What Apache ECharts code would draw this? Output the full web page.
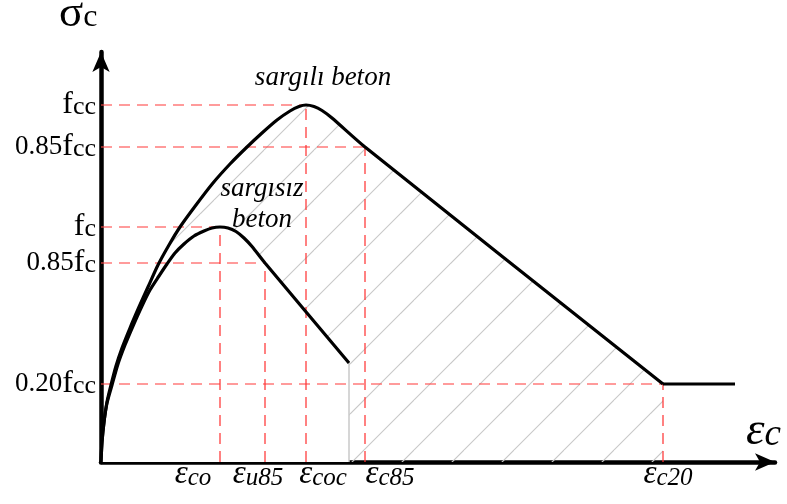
<!DOCTYPE html>
<html><head><meta charset="utf-8">
<script src="https://cdn.jsdelivr.net/npm/echarts@6/dist/echarts.min.js"></script>
<style>html,body{margin:0;padding:0;background:#fff}#c{width:787px;height:504px}</style>
</head><body><div id="c"></div>
<script>
// ---- data (strain units on x, stress units on y) ----
const confinedX = [0, 1, 3, 6, 10, 15, 21, 29, 38, 47, 57, 68, 79, 95, 112, 129, 146, 161, 176, 189, 198, 205, 213, 221, 231, 264, 562];
const confinedY = [0, 20, 40, 60, 77, 96, 114, 134, 155, 175, 197, 217, 235, 257, 279, 298, 315, 329, 342, 351, 355.5, 357, 355.5, 351.5, 344, 315, 78];
const tailX = [562, 634];
const tailY = [78, 78];
const unconfinedX = [0, 1, 3, 6, 11, 17, 24, 32, 41, 49, 58, 66, 74, 83, 93, 103, 111, 119, 127, 135, 143, 151, 164, 248];
const unconfinedY = [0, 20, 40, 59, 77, 98, 117, 136, 156, 172, 186, 198, 209, 218, 226, 231, 234, 235, 234, 230.5, 224, 215.5, 199, 99];
const unconfinedEndX = 248;
const unconfinedEndY = 99;

const yTickValues = [357, 315, 235, 199, 78];
const yTickPrefix = ['', '0.85', '', '0.85', '0.20'];
const yTickSub = ['cc', 'cc', 'c', 'c', 'cc'];
const yGuideEndX = [205, 264, 119, 164, 562];

const xTickValues = [119, 164, 205, 264, 562];
const xTickSub = ['co', 'u85', 'coc', 'c85', 'c20'];
const xGuideTopY = [235, 199, 357, 315, 78];
const xLabelAt = [92, 157, 222, 289, 567];

const xMax = 674, yMax = 410;

// ---- hatch pattern ----
const pc = document.createElement('canvas');
pc.width = 50; pc.height = 50;
const g = pc.getContext('2d');
g.strokeStyle = '#c8c8c8'; g.lineWidth = 1.1;
[14, 64].forEach(c => { g.beginPath(); g.moveTo(0, c); g.lineTo(c, 0); g.stroke(); });

const zip = (a, b) => a.map((v, i) => [v, b[i]]);
const serif = 'Liberation Serif';
const SM = 0.25;
const TXT = '#000';

const series = [];
series.push({ type: 'line', data: zip(confinedX, confinedY), smooth: SM, symbol: 'none', z: 1, silent: true,
  lineStyle: { width: 0, opacity: 0 }, areaStyle: { color: { image: pc, repeat: 'repeat' }, opacity: 1 } });
series.push({ type: 'line', data: zip(unconfinedX, unconfinedY), smooth: SM, symbol: 'none', z: 2, silent: true,
  lineStyle: { width: 0, opacity: 0 }, areaStyle: { color: '#ffffff', opacity: 1 } });
yTickValues.forEach((v, i) => series.push({ type: 'line', data: [[0, v], [yGuideEndX[i], v]], symbol: 'none', z: 3, silent: true,
  lineStyle: { color: 'rgba(255,70,70,0.72)', width: 1.5, type: [11, 7] } }));
xTickValues.forEach((v, i) => series.push({ type: 'line', data: [[v, 0], [v, xGuideTopY[i]]], symbol: 'none', z: 3, silent: true,
  lineStyle: { color: 'rgba(255,50,50,0.82)', width: 1.5, type: [11, 7] } }));
series.push({ type: 'line', data: [[unconfinedEndX, 0], [unconfinedEndX, unconfinedEndY]], symbol: 'none', z: 3, silent: true,
  lineStyle: { color: '#c8c8c8', width: 1.5 } });
series.push({ type: 'line', data: zip(confinedX, confinedY), smooth: SM, symbol: 'none', z: 5, silent: true,
  lineStyle: { color: '#000', width: 3.2 } });
series.push({ type: 'line', data: zip(tailX, tailY), symbol: 'none', z: 5, silent: true,
  lineStyle: { color: '#000', width: 3.2 } });
series.push({ type: 'line', data: zip(unconfinedX, unconfinedY), smooth: SM, symbol: 'none', z: 5, silent: true,
  lineStyle: { color: '#000', width: 3.2 } });
series.push({ type: 'scatter', data: xLabelAt.map(v => [v, 0]), symbolSize: 0, z: 6, silent: true,
  itemStyle: { opacity: 1, color: '#000' },
  label: { show: true, position: 'bottom', distance: 0, offset: [0, -5], color: TXT, opacity: 1, textBorderWidth: 0,
    formatter: p => { const s = xTickSub[p.dataIndex]; return '{e|ε}{' + (/\d/.test(s) ? 'd' : 's') + '|' + s + '}'; },
    rich: {
      e: { fontFamily: serif, fontStyle: 'italic', fontSize: 33, lineHeight: 34, color: TXT },
      s: { fontFamily: serif, fontStyle: 'italic', fontSize: 25, lineHeight: 24, verticalAlign: 'bottom', color: TXT },
      d: { fontFamily: serif, fontStyle: 'italic', fontSize: 25, lineHeight: 12, verticalAlign: 'bottom', color: TXT }
    } } });

const option = {
  animation: false,
  backgroundColor: '#fff',
  grid: { left: 101, right: 12, top: 52, bottom: 42 },
  xAxis: { type: 'value', min: 0, max: xMax, axisLabel: { show: false }, axisTick: { show: false }, splitLine: { show: false },
    axisLine: { lineStyle: { color: '#000', width: 4.5 }, symbol: ['none', 'arrow'], symbolSize: [13, 20] } },
  yAxis: { type: 'value', min: 0, max: yMax, axisTick: { show: false }, splitLine: { show: false },
    axisLine: { lineStyle: { color: '#000', width: 4.5 }, symbol: ['none', 'arrow'], symbolSize: [13, 20] },
    axisLabel: { customValues: yTickValues, hideOverlap: false, margin: 5,
      formatter: v => { const i = yTickValues.indexOf(v); return '{n|' + yTickPrefix[i] + '}{f|f}{s|' + yTickSub[i] + '}'; },
      rich: {
        n: { fontFamily: serif, fontSize: 27, lineHeight: 30, color: TXT },
        f: { fontFamily: serif, fontSize: 32, lineHeight: 30, color: TXT },
        s: { fontFamily: serif, fontSize: 26, lineHeight: 22, verticalAlign: 'bottom', color: TXT }
      } } },
  graphic: [
    { type: 'text', x: 59, y: 14, z: 10, style: { text: '{a|σ}{b|c}', verticalAlign: 'middle', align: 'left',
      rich: { a: { fontFamily: serif, fontSize: 45, lineHeight: 40, fill: TXT },
              b: { fontFamily: serif, fontSize: 32, lineHeight: 30, verticalAlign: 'bottom', fill: TXT } } } },
    { type: 'text', x: 746, y: 432, z: 10, style: { text: '{a|ε}{b|c}', verticalAlign: 'middle', align: 'left',
      rich: { a: { fontFamily: serif, fontStyle: 'italic', fontSize: 47, lineHeight: 44, fill: TXT },
              b: { fontFamily: serif, fontStyle: 'italic', fontSize: 37, lineHeight: 32, verticalAlign: 'bottom', fill: TXT } } } },
    { type: 'text', x: 323, y: 78, z: 10, style: { text: 'sargılı beton', align: 'center', verticalAlign: 'middle',
      font: 'italic 27px "Liberation Serif"', fill: TXT } },
    { type: 'text', x: 262, y: 204, z: 10, style: { text: 'sargısız\nbeton', align: 'center', verticalAlign: 'middle',
      font: 'italic 27px "Liberation Serif"', lineHeight: 31, fill: TXT } }
  ],
  series
};
const chart = echarts.init(document.getElementById('c'));
chart.setOption(option);
</script></body></html>
